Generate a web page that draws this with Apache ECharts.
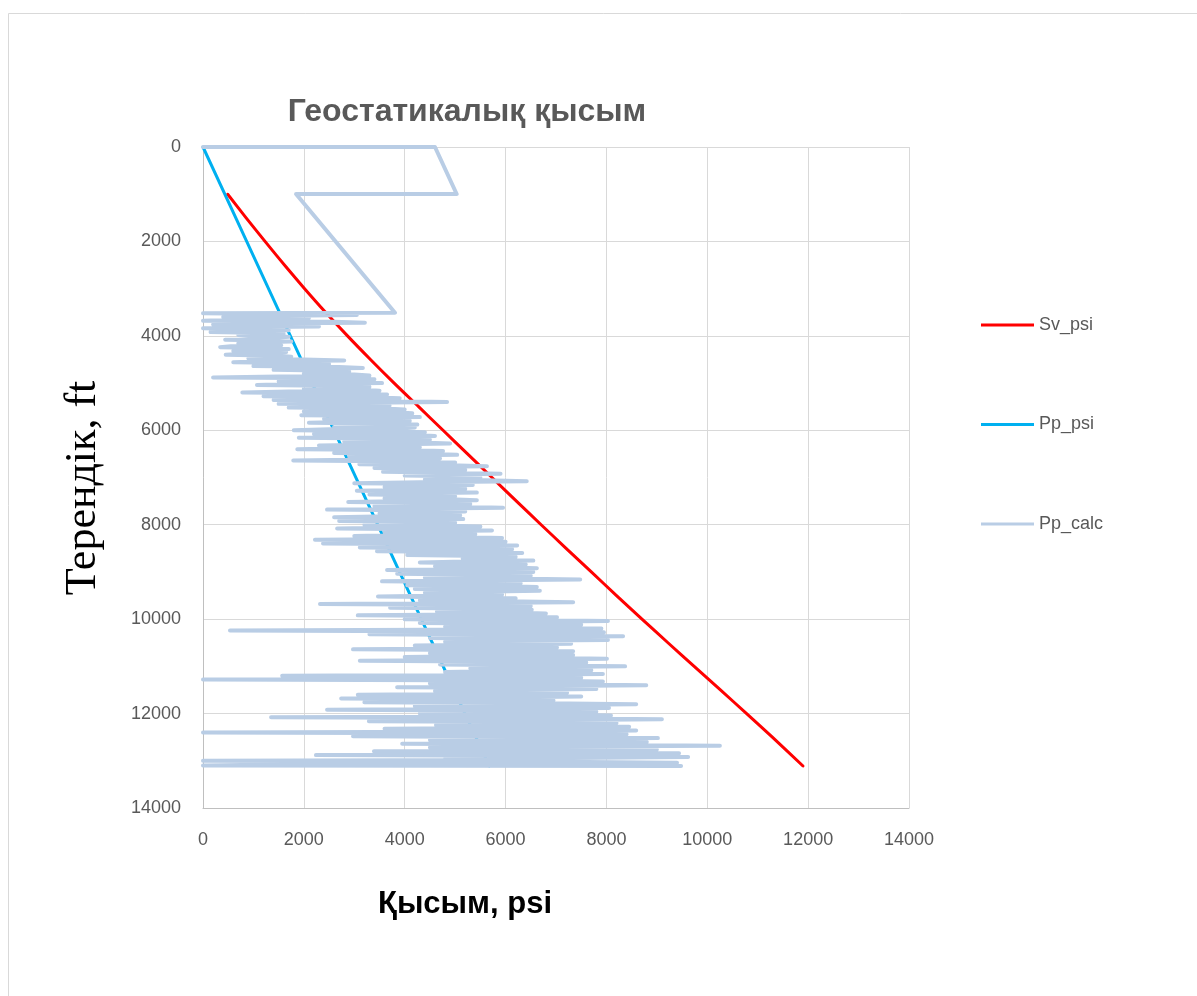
<!DOCTYPE html>
<html>
<head>
<meta charset="utf-8">
<title>Геостатикалық қысым</title>
<script src="https://cdn.jsdelivr.net/npm/echarts@6/dist/echarts.min.js"></script>
<style>
  html, body { margin: 0; padding: 0; background: #ffffff; }
  #chart { width: 1197px; height: 996px; }
</style>
</head>
<body>
<div id="chart"></div>
<script>
// Axis ticks (psi on x, depth in ft on y)
const xTicks = [0, 2000, 4000, 6000, 8000, 10000, 12000, 14000];
const yTicks = [0, 2000, 4000, 6000, 8000, 10000, 12000, 14000];

// Overburden (vertical) stress, psi vs depth ft
const svDepth = [1000, 1500, 2000, 2500, 3000, 3500, 4000, 4500, 5000, 5500, 6000, 6500,
                 7000, 7500, 8000, 8500, 9000, 9500, 10000, 10500, 11000, 11500, 12000, 12500, 13110];
const svPsi   = [490, 855, 1230, 1615, 2015, 2430, 2865, 3320, 3790, 4275, 4760, 5245,
                 5730, 6215, 6705, 7200, 7700, 8200, 8705, 9220, 9740, 10260, 10780, 11290, 11898];

// Hydrostatic pore pressure
const ppDepth = [0, 2000, 4000, 6000, 8000, 10000, 12000, 13110];
const ppPsi   = [0, 866, 1732, 2598, 3464, 4330, 5196, 5677];

// Calculated pore pressure from logs (depth ft / psi, one row = 200 ft)
const ppCalcDepth = [
  0, 0, 995, 995, 3509,
  3520, 3540, 3560, 3580, 3600, 3620, 3640, 3660, 3680, 3700,
  3720, 3740, 3760, 3780, 3800, 3820, 3840, 3860, 3880, 3900,
  3920, 3940, 3960, 3980, 4000, 4020, 4040, 4060, 4080, 4100,
  4120, 4140, 4160, 4180, 4200, 4220, 4240, 4260, 4280, 4300,
  4320, 4340, 4360, 4380, 4400, 4420, 4440, 4460, 4480, 4500,
  4520, 4540, 4560, 4580, 4600, 4620, 4640, 4660, 4680, 4700,
  4720, 4740, 4760, 4780, 4800, 4820, 4840, 4860, 4880, 4900,
  4920, 4940, 4960, 4980, 5000, 5020, 5040, 5060, 5080, 5100,
  5120, 5140, 5160, 5180, 5200, 5220, 5240, 5260, 5280, 5300,
  5320, 5340, 5360, 5380, 5400, 5420, 5440, 5460, 5480, 5500,
  5520, 5540, 5560, 5580, 5600, 5620, 5640, 5660, 5680, 5700,
  5720, 5740, 5760, 5780, 5800, 5820, 5840, 5860, 5880, 5900,
  5920, 5940, 5960, 5980, 6000, 6020, 6040, 6060, 6080, 6100,
  6120, 6140, 6160, 6180, 6200, 6220, 6240, 6260, 6280, 6300,
  6320, 6340, 6360, 6380, 6400, 6420, 6440, 6460, 6480, 6500,
  6520, 6540, 6560, 6580, 6600, 6620, 6640, 6660, 6680, 6700,
  6720, 6740, 6760, 6780, 6800, 6820, 6840, 6860, 6880, 6900,
  6920, 6940, 6960, 6980, 7000, 7020, 7040, 7060, 7080, 7100,
  7120, 7140, 7160, 7180, 7200, 7220, 7240, 7260, 7280, 7300,
  7320, 7340, 7360, 7380, 7400, 7420, 7440, 7460, 7480, 7500,
  7520, 7540, 7560, 7580, 7600, 7620, 7640, 7660, 7680, 7700,
  7720, 7740, 7760, 7780, 7800, 7820, 7840, 7860, 7880, 7900,
  7920, 7940, 7960, 7980, 8000, 8020, 8040, 8060, 8080, 8100,
  8120, 8140, 8160, 8180, 8200, 8220, 8240, 8260, 8280, 8300,
  8320, 8340, 8360, 8380, 8400, 8420, 8440, 8460, 8480, 8500,
  8520, 8540, 8560, 8580, 8600, 8620, 8640, 8660, 8680, 8700,
  8720, 8740, 8760, 8780, 8800, 8820, 8840, 8860, 8880, 8900,
  8920, 8940, 8960, 8980, 9000, 9020, 9040, 9060, 9080, 9100,
  9120, 9140, 9160, 9180, 9200, 9220, 9240, 9260, 9280, 9300,
  9320, 9340, 9360, 9380, 9400, 9420, 9440, 9460, 9480, 9500,
  9520, 9540, 9560, 9580, 9600, 9620, 9640, 9660, 9680, 9700,
  9720, 9740, 9760, 9780, 9800, 9820, 9840, 9860, 9880, 9900,
  9920, 9940, 9960, 9980, 10000, 10020, 10040, 10060, 10080, 10100,
  10120, 10140, 10160, 10180, 10200, 10220, 10240, 10260, 10280, 10300,
  10320, 10340, 10360, 10380, 10400, 10420, 10440, 10460, 10480, 10500,
  10520, 10540, 10560, 10580, 10600, 10620, 10640, 10660, 10680, 10700,
  10720, 10740, 10760, 10780, 10800, 10820, 10840, 10860, 10880, 10900,
  10920, 10940, 10960, 10980, 11000, 11020, 11040, 11060, 11080, 11100,
  11120, 11140, 11160, 11180, 11200, 11220, 11240, 11260, 11280, 11300,
  11320, 11340, 11360, 11380, 11400, 11420, 11440, 11460, 11480, 11500,
  11520, 11540, 11560, 11580, 11600, 11620, 11640, 11660, 11680, 11700,
  11720, 11740, 11760, 11780, 11800, 11820, 11840, 11860, 11880, 11900,
  11920, 11940, 11960, 11980, 12000, 12020, 12040, 12060, 12080, 12100,
  12120, 12140, 12160, 12180, 12200, 12220, 12240, 12260, 12280, 12300,
  12320, 12340, 12360, 12380, 12400, 12420, 12440, 12460, 12480, 12500,
  12520, 12540, 12560, 12580, 12600, 12620, 12640, 12660, 12680, 12700,
  12720, 12740, 12760, 12780, 12800, 12820, 12840, 12860, 12880, 12900,
  12920, 12940, 12960, 12980, 13000, 13020, 13040, 13060, 13080,
  13100, 13110
];
const ppCalcPsi = [
  0, 4600, 5030, 1845, 3807,
  0, 1900, 3050, 1200, 400, 2100, 1500, 600, 0, 2600,
  3210, 900, 200, 1300, 2300, 800, 0, 1200, 1700, 500,
  150, 1250, 1600, 700, 900, 1700, 1450, 1100, 440, 1300,
  1750, 1000, 700, 1500, 1550, 550, 340, 1400, 1700, 1000,
  600, 1650, 1400, 800, 450, 1500, 1750, 1100, 900, 2000,
  2800, 1200, 600, 2200, 2500, 1400, 1000, 2700, 3170, 1800,
  1400, 2600, 2900, 2300, 2000, 3000, 3300, 1500, 200, 2700,
  3400, 2400, 1500, 3000, 3550, 1800, 1070, 2900, 3300, 2300,
  2000, 3200, 3500, 1700, 780, 3100, 3650, 2200, 1200, 3300,
  3900, 2500, 1400, 3600, 4840, 2700, 1500, 3400, 3700, 2400,
  1700, 3600, 4000, 2900, 2000, 3800, 4150, 2500, 1950, 3900,
  4300, 2700, 2400, 3700, 4100, 3000, 2100, 3900, 4250, 3100,
  2600, 4200, 3900, 2500, 1800, 3800, 4400, 3000, 2200, 4200,
  4600, 3300, 1900, 3900, 4500, 3200, 2800, 4300, 4900, 3600,
  2300, 4100, 4300, 2900, 1870, 4000, 4760, 3500, 2600, 4500,
  5040, 3600, 2900, 4500, 4700, 3300, 1790, 4200, 5000, 3900,
  3100, 4900, 5630, 4200, 3400, 4800, 5200, 4000, 3570, 5000,
  5900, 4500, 4000, 5300, 5500, 4600, 4400, 5600, 6420, 4300,
  3000, 4800, 5350, 4100, 3600, 4900, 5200, 4300, 3050, 4700,
  5430, 4000, 3300, 4800, 5000, 3900, 3600, 4900, 5430, 4100,
  2880, 4600, 5300, 3900, 3400, 5000, 5950, 4200, 2460, 4500,
  5200, 4000, 3500, 4800, 5100, 3700, 2600, 4700, 5160, 3800,
  2700, 4500, 5000, 4100, 3200, 4900, 5500, 3900, 2660, 4800,
  5730, 4400, 3600, 5100, 5400, 4000, 3000, 5000, 5930, 4300,
  2220, 4700, 6000, 4500, 2380, 5200, 6230, 4600, 3110, 5300,
  6130, 4700, 3450, 5500, 6330, 5000, 4050, 5600, 6200, 5400,
  5150, 6000, 6550, 5200, 4300, 5800, 6400, 5100, 4600, 5900,
  6620, 5200, 3650, 5600, 6550, 5000, 3850, 5700, 6500, 5300,
  4400, 6100, 7480, 5200, 3550, 5500, 6300, 5100, 4050, 5800,
  6620, 5300, 4200, 5900, 6680, 5400, 4400, 5600, 5930, 4800,
  3470, 5400, 6200, 5000, 4300, 6000, 7340, 5300, 2320, 5500,
  6500, 5200, 3710, 5700, 6520, 5300, 4640, 6100, 6800, 5200,
  3070, 5800, 7020, 5500, 4000, 6300, 8030, 5900, 4300, 6400,
  7500, 5600, 4800, 6600, 7900, 5800, 535, 5700, 7950, 6000,
  3300, 6200, 8330, 6100, 4500, 6700, 8030, 6000, 4800, 6500,
  7300, 5600, 4200, 6300, 7020, 5400, 2975, 6100, 7340, 5800,
  4500, 6400, 7340, 5700, 4000, 6600, 8010, 6200, 3110, 6300,
  7600, 5900, 4700, 6800, 8370, 6300, 5300, 6900, 7700, 6100,
  4800, 6700, 7930, 6000, 1570, 6200, 7500, 5800, 0, 6400,
  7930, 6300, 4500, 7000, 8790, 6500, 3850, 6700, 7800, 5900,
  4600, 6500, 7220, 5700, 3070, 6300, 7500, 5800, 2740, 6200,
  6950, 5400, 3200, 6800, 8590, 6600, 4200, 7000, 8050, 6100,
  2460, 6500, 7800, 6200, 4300, 7100, 8090, 6400, 1350, 6900,
  9100, 6700, 3290, 6900, 8200, 6500, 4620, 7300, 8450, 6600,
  3600, 7000, 8590, 6800, 0, 6600, 8400, 6900, 2975, 7200,
  9020, 7000, 4500, 7400, 8800, 6800, 3950, 7500, 10250, 7100,
  4500, 7600, 9000, 6900, 3390, 7400, 9440, 7200, 2240, 7000,
  9620, 7300, 4800, 7500, 0, 7000, 9400, 6500, 1550,
  0, 9480
];

const toPairs = (xs, ys) => xs.map((x, i) => [x, ys[i]]);

const chart = echarts.init(document.getElementById('chart'), null, { renderer: 'canvas' });

const tickFont = { color: '#595959', fontSize: 18, fontFamily: 'Liberation Sans' };
const plainNumber = v => String(v);

chart.setOption({
  animation: false,
  backgroundColor: '#ffffff',
  graphic: [
    {
      type: 'rect',
      shape: { x: 8.5, y: 13.5, width: 1200, height: 1000 },
      style: { fill: 'none', stroke: '#d9d9d9', lineWidth: 1 },
      silent: true,
      z: -10
    },
    {
      type: 'text',
      x: 465,
      y: 904,
      style: {
        text: 'Қысым, psi',
        fill: '#000000',
        font: 'bold 31px "Liberation Sans"',
        textAlign: 'center',
        textVerticalAlign: 'middle'
      }
    },
    {
      type: 'text',
      x: 83,
      y: 488,
      rotation: Math.PI / 2,
      style: {
        text: 'Терендік, ft',
        fill: '#000000',
        font: '44px "Liberation Serif"',
        textAlign: 'center',
        textVerticalAlign: 'middle'
      }
    }
  ],
  title: {
    text: 'Геостатикалық қысым',
    left: 462,
    top: 91,
    textAlign: 'center',
    textStyle: { color: '#595959', fontSize: 32, fontWeight: 'bold', fontFamily: 'Liberation Sans' }
  },
  legend: {
    orient: 'vertical',
    left: 981,
    top: 316,
    padding: 0,
    itemWidth: 53,
    itemHeight: 14,
    itemGap: 81.5,
    icon: 'path://M0,5.5 L53,5.5 L53,8.5 L0,8.5 Z',
    textStyle: { color: '#595959', fontSize: 18, fontFamily: 'Liberation Sans' },
    data: ['Sv_psi', 'Pp_psi', 'Pp_calc']
  },
  grid: { left: 203, top: 147, width: 706, height: 661, containLabel: false },
  xAxis: {
    type: 'value',
    min: xTicks[0],
    max: xTicks[xTicks.length - 1],
    interval: xTicks[1] - xTicks[0],
    position: 'bottom',
    axisLine: { onZero: false, lineStyle: { color: '#bfbfbf', width: 1 } },
    axisTick: { show: false },
    axisLabel: Object.assign({ margin: 23, formatter: plainNumber }, tickFont),
    splitLine: { show: true, lineStyle: { color: '#d9d9d9', width: 1 } }
  },
  yAxis: {
    type: 'value',
    inverse: true,
    min: yTicks[0],
    max: yTicks[yTicks.length - 1],
    interval: yTicks[1] - yTicks[0],
    axisLine: { show: true, onZero: false, lineStyle: { color: '#bfbfbf', width: 1 } },
    axisTick: { show: false },
    axisLabel: Object.assign({ margin: 22, formatter: plainNumber }, tickFont),
    splitLine: { show: true, lineStyle: { color: '#d9d9d9', width: 1 } }
  },
  series: [
    {
      name: 'Sv_psi',
      type: 'line',
      data: toPairs(svPsi, svDepth),
      symbol: 'none',
      smooth: 0.3,
      color: '#ff0000',
      lineStyle: { color: '#ff0000', width: 3, cap: 'round', join: 'round' }
    },
    {
      name: 'Pp_psi',
      type: 'line',
      data: toPairs(ppPsi, ppDepth),
      symbol: 'none',
      color: '#00b0f0',
      lineStyle: { color: '#00b0f0', width: 3, cap: 'round', join: 'round' }
    },
    {
      name: 'Pp_calc',
      type: 'line',
      data: toPairs(ppCalcPsi, ppCalcDepth),
      symbol: 'none',
      color: '#b9cde5',
      lineStyle: { color: '#b9cde5', width: 4, cap: 'round', join: 'round' }
    }
  ]
});
</script>
</body>
</html>
